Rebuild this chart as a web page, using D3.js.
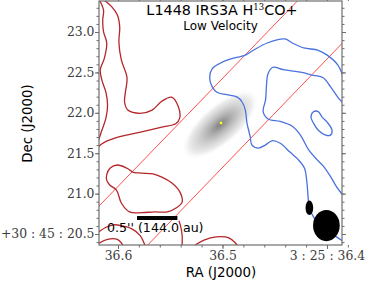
<!DOCTYPE html>
<html><head><meta charset="utf-8">
<script src="https://cdn.jsdelivr.net/npm/d3@7"></script>
<style>body{margin:0;background:#fff}svg{display:block}</style>
</head><body>
<svg id="c" width="374" height="282"></svg>
<script>
// ---------------- data ----------------
const titleMain = "L1448 IRS3A H";
const titleSup = "13";
const titleTail = "CO+";
const subtitle = "Low Velocity";
const xLabel = "RA (J2000)";
const yLabel = "Dec (J2000)";

// source position (RA seconds of 3h25m, Dec arcsec of +30d45m)
const sourceRA = 36.5014;
const sourceDec = 21.874;
const decDeg = 30 + 45/60 + 21.874/3600;

// axis limits
const raLimits = [36.6182, 36.3856];
const decLimits = [20.364, 23.384];

const raTicks = [36.6, 36.5, 36.4];
const raTickLabels = ["36.6", "36.5", "3 : 25 : 36.4"];
const decTicks = [20.5, 21.0, 21.5, 22.0, 22.5, 23.0];
const decTickLabels = ["+30 : 45 : 20.5", "21.0", "21.5", "22.0", "22.5", "23.0"];

// contours: [east offset ", north offset "] relative to source
const redContours = [
  [[1.50,1.52],[1.45,1.40],[1.46,1.27],[1.45,1.13],[1.41,0.99],[1.44,0.80],[1.49,0.66],[1.47,0.53],[1.42,0.38],[1.40,0.22],[1.42,0.06],[1.47,-0.09],[1.51,-0.21]],
  [[1.44,1.52],[1.35,1.44],[1.28,1.34],[1.25,1.19],[1.26,1.00],[1.23,0.78],[1.16,0.56],[1.18,0.38],[1.19,0.26],[1.15,0.16],[1.00,0.12],[0.85,0.16],[0.73,0.27],[0.61,0.32],[0.53,0.21],[0.51,0.06],[0.56,-0.01],[0.73,-0.05],[0.98,-0.11],[1.25,-0.17],[1.44,-0.24],[1.51,-0.29]],
  [[1.51,-1.49],[1.40,-1.44],[1.28,-1.44],[1.21,-1.51]],
  [[1.51,-1.35],[1.42,-1.29],[1.32,-1.26],[1.23,-1.27],[1.10,-1.31],[1.00,-1.39],[0.94,-1.51]],
  [[0.48,-1.51],[0.48,-1.39],[0.50,-1.27],[0.52,-1.21]],
  [[0.32,-1.51],[0.21,-1.45],[0.06,-1.41],[-0.09,-1.42],[-0.20,-1.51]]
];
const redLoops = [
  [[1.41,-0.64],[1.37,-0.56],[1.28,-0.52],[1.16,-0.56],[1.08,-0.61],[0.98,-0.62],[0.84,-0.63],[0.73,-0.67],[0.61,-0.74],[0.51,-0.85],[0.48,-0.98],[0.55,-1.05],[0.66,-1.10],[0.82,-1.10],[0.98,-1.11],[1.13,-1.10],[1.23,-0.99],[1.29,-0.83],[1.37,-0.77],[1.41,-0.71]]
];
const blueContours = [
  [[-1.50,0.59],[-1.44,0.72],[-1.31,0.84],[-1.20,0.90],[-1.02,0.93],[-0.88,0.99],[-0.79,1.04],[-0.57,0.99],[-0.40,0.90],[-0.30,0.84],[-0.11,0.79],[0.01,0.74],[0.11,0.67],[0.14,0.56],[0.11,0.45],[0.05,0.38],[-0.07,0.35],[-0.20,0.32],[-0.26,0.26],[-0.30,0.16],[-0.32,0.00],[-0.36,-0.17],[-0.38,-0.27],[-0.46,-0.31],[-0.55,-0.27],[-0.63,-0.22],[-0.73,-0.25],[-0.85,-0.36],[-0.95,-0.45],[-1.03,-0.56],[-1.06,-0.74],[-1.08,-0.98],[-1.10,-1.08],[-1.14,-1.16],[-1.20,-1.25],[-1.30,-1.32],[-1.41,-1.40],[-1.50,-1.46]],
  [[-1.50,0.25],[-1.44,0.32],[-1.35,0.45],[-1.26,0.56],[-1.14,0.59],[-0.98,0.63],[-0.77,0.66],[-0.64,0.69],[-0.58,0.61],[-0.56,0.45],[-0.55,0.29],[-0.52,0.14],[-0.58,0.05],[-0.73,0.02],[-0.88,-0.04],[-0.98,-0.15],[-1.08,-0.33],[-1.19,-0.46],[-1.26,-0.53],[-1.35,-0.66],[-1.42,-0.78],[-1.50,-0.89]]
];
const blueLoops = [
  [[-1.14,0.14],[-1.20,0.14],[-1.25,0.07],[-1.31,0.01],[-1.37,-0.09],[-1.35,-0.15],[-1.29,-0.15],[-1.20,-0.09],[-1.14,0.00],[-1.11,0.07]]
];
// parallel guide lines (east, north offsets of end points)
const guideLines = [
  [[-1.0,1.57],[1.7,-1.23]],
  [[-1.7,1.20],[1.0,-1.61]]
];
// continuum blob: centre offset, full major/minor ("), PA (deg E of N)
const blobCentre = [0.01, -0.02];
const blobAxes = [1.2, 0.5];
const blobPA = 131;
// beams: [east, north, major", minor", PA]
const beams = [
  [-1.30, -1.27, 0.385, 0.33, 0],
  [-1.09, -1.05, 0.18, 0.095, 0]
];
const scaleBarArcsec = 0.5;
const scaleBarAU = 144.0;

// ---------------- drawing ----------------
const L = 99, R = 342, T = 1, B = 245;
const svg = d3.select("#c");
const x = d3.scaleLinear().domain(raLimits).range([L, R]);
const y = d3.scaleLinear().domain(decLimits).range([B, T]);
const cosd = Math.cos(decDeg * Math.PI / 180);
const toRA = e => sourceRA + e / (15 * cosd);
const toDec = n => sourceDec + n;
const px = p => x(toRA(p[0]));
const py = p => y(toDec(p[1]));
const pxPerArcsec = Math.abs(y(sourceDec + 1) - y(sourceDec));

const defs = svg.append("defs");
defs.append("clipPath").attr("id", "clip").append("rect")
  .attr("x", L).attr("y", T).attr("width", R - L).attr("height", B - T);
const grad = defs.append("radialGradient").attr("id", "blobG");
[[0, "#838383", 1], [0.1, "#919191", 1], [0.3, "#b2b2b2", 1], [0.55, "#d2d2d2", 1], [0.8, "#ececec", 1], [1, "#ffffff", 0]]
  .forEach(s => grad.append("stop").attr("offset", s[0]).attr("stop-color", s[1]).attr("stop-opacity", s[2]));

const plot = svg.append("g").attr("clip-path", "url(#clip)");

// blob
plot.append("ellipse")
  .attr("cx", 0).attr("cy", 0)
  .attr("rx", blobAxes[1] / 2 * pxPerArcsec).attr("ry", blobAxes[0] / 2 * pxPerArcsec)
  .attr("transform", `translate(${px(blobCentre)},${py(blobCentre)}) rotate(${-blobPA})`)
  .attr("fill", "url(#blobG)");

// guide lines
plot.selectAll(".guide").data(guideLines).join("line")
  .attr("x1", d => px(d[0])).attr("y1", d => py(d[0]))
  .attr("x2", d => px(d[1])).attr("y2", d => py(d[1]))
  .attr("stroke", "#ff3b3b").attr("stroke-width", 0.9);

const open = d3.line().x(px).y(py).curve(d3.curveCatmullRom.alpha(0.5));
const closed = d3.line().x(px).y(py).curve(d3.curveCatmullRomClosed.alpha(0.5));

plot.selectAll(".rc").data(redContours).join("path").attr("d", open)
  .attr("fill", "none").attr("stroke", "#b5262a").attr("stroke-width", 1.3);
plot.selectAll(".rl").data(redLoops).join("path").attr("d", closed)
  .attr("fill", "none").attr("stroke", "#b5262a").attr("stroke-width", 1.3);
plot.selectAll(".bc").data(blueContours).join("path").attr("d", open)
  .attr("fill", "none").attr("stroke", "#4a72de").attr("stroke-width", 1.3);
plot.selectAll(".bl").data(blueLoops).join("path").attr("d", closed)
  .attr("fill", "none").attr("stroke", "#4a72de").attr("stroke-width", 1.3);

// beams
plot.selectAll(".beam").data(beams).join("ellipse")
  .attr("cx", 0).attr("cy", 0)
  .attr("rx", d => d[3] / 2 * pxPerArcsec).attr("ry", d => d[2] / 2 * pxPerArcsec)
  .attr("transform", d => `translate(${px(d)},${py(d)}) rotate(${-d[4]})`)
  .attr("fill", "#000");

// source marker
plot.append("rect").attr("x", px([0,0]) - 1.2).attr("y", py([0,0]) - 1.2)
  .attr("width", 2.4).attr("height", 2.4).attr("fill", "#ffff20");

// scale bar
const barX = 137, barY = 216;
svg.append("rect").attr("x", barX).attr("y", barY)
  .attr("width", scaleBarArcsec * pxPerArcsec).attr("height", 4).attr("fill", "#000");
svg.append("text").attr("x", 107).attr("y", 232)
  .attr("font-family", "DejaVu Sans").attr("font-size", 12.6).attr("fill", "#000")
  .text(`${scaleBarArcsec}'' (${scaleBarAU.toFixed(1)} au)`);

// frame
svg.append("rect").attr("x", L).attr("y", T).attr("width", R - L).attr("height", B - T)
  .attr("fill", "none").attr("stroke", "#6e6e6e").attr("stroke-width", 1.2);

const decMinor = d3.range(20.4, 23.35, 0.1).map(v => +v.toFixed(2));
const raMinor = d3.range(36.38, 36.62, 0.02).map(v => +v.toFixed(3));

function styleAxis(g) {
  g.select(".domain").remove();
  g.selectAll("line").attr("stroke", "#6e6e6e").attr("stroke-width", 1);
  g.selectAll("text").attr("font-family", "DejaVu Serif").attr("font-size", 12.4).attr("fill", "#3c3c3c");
}
svg.append("g").attr("transform", `translate(${L},0)`)
  .call(d3.axisLeft(y).tickValues(decMinor).tickSize(2.5).tickFormat("")).call(styleAxis);
svg.append("g").attr("transform", `translate(${R},0)`)
  .call(d3.axisRight(y).tickValues(decMinor).tickSize(2.5).tickFormat("")).call(styleAxis);
svg.append("g").attr("transform", `translate(0,${B})`)
  .call(d3.axisBottom(x).tickValues(raMinor).tickSize(2.5).tickFormat("")).call(styleAxis);
svg.append("g").attr("transform", `translate(0,${T})`)
  .call(d3.axisTop(x).tickValues(raMinor).tickSize(2.5).tickFormat("")).call(styleAxis);

svg.append("g").attr("transform", `translate(${L},0)`)
  .call(d3.axisLeft(y).tickValues(decTicks).tickSize(4).tickPadding(0.5).tickFormat((d, i) => decTickLabels[i])).call(styleAxis);
svg.append("g").attr("transform", `translate(${R},0)`)
  .call(d3.axisRight(y).tickValues(decTicks).tickSize(4).tickFormat("")).call(styleAxis);
svg.append("g").attr("transform", `translate(0,${B})`)
  .call(d3.axisBottom(x).tickValues(raTicks).tickSize(4).tickPadding(2).tickFormat((d, i) => raTickLabels[i])).call(styleAxis);
svg.append("g").attr("transform", `translate(0,${T})`)
  .call(d3.axisTop(x).tickValues(raTicks).tickSize(4).tickFormat("")).call(styleAxis);

// axis labels
svg.append("text").attr("x", 221).attr("y", 277).attr("text-anchor", "middle")
  .attr("font-family", "DejaVu Sans").attr("font-size", 13.4).attr("fill", "#000").text(xLabel);
svg.append("text").attr("transform", "translate(32,123.5) rotate(-90)").attr("text-anchor", "middle")
  .attr("font-family", "DejaVu Sans").attr("font-size", 13.4).attr("fill", "#000").text(yLabel);

// title
const t = svg.append("text").attr("x", 222).attr("y", 15).attr("text-anchor", "middle")
  .attr("font-family", "DejaVu Sans").attr("font-size", 14.4).attr("fill", "#000");
t.append("tspan").text(titleMain);
t.append("tspan").attr("font-family", "DejaVu Serif").attr("font-size", 8.5).attr("dy", -5).text(titleSup);
t.append("tspan").attr("dy", 5).text(titleTail);
svg.append("text").attr("x", 220.5).attr("y", 29.5).attr("text-anchor", "middle")
  .attr("font-family", "DejaVu Sans").attr("font-size", 12).attr("fill", "#000").text(subtitle);
</script>
</body></html>
